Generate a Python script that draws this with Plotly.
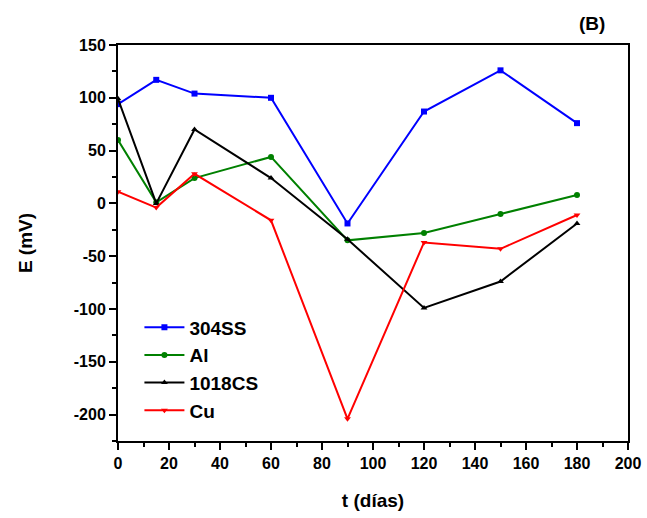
import plotly.graph_objects as go

t_days = [0, 15, 30, 60, 90, 120, 150, 180]
ss304 = [94, 117, 104, 100, -19, 87, 126, 76]
al = [60, 1, 24, 44, -35, -28, -10, 8]
cs1018 = [99, 0, 70, 24, -34, -99, -74, -19]
cu = [11, -4, 28, -16, -204, -37, -43, -11]

x_ticks = [0, 20, 40, 60, 80, 100, 120, 140, 160, 180, 200]
y_ticks = [-200, -150, -100, -50, 0, 50, 100, 150]
y_ticktext = ["-200", "-150", "-100", "-50", "0", "50", "100", "150"]

series = [
    ("304SS", ss304, "#0000ff", "square"),
    ("Al", al, "#008000", "circle"),
    ("1018CS", cs1018, "#000000", "triangle-up"),
    ("Cu", cu, "#ff0000", "triangle-down"),
]

FONT = "Arial, 'Liberation Sans', sans-serif"

fig = go.Figure()
for name, vals, col, sym in series:
    fig.add_trace(go.Scatter(
        x=t_days, y=vals, name=name, mode="lines+markers",
        line=dict(color=col, width=2),
        marker=dict(symbol=sym, size=6, color=col),
    ))

axis_common = dict(
    showline=True, linecolor="black", linewidth=2, mirror=True,
    ticks="outside", tickcolor="black", tickwidth=1.5, ticklen=7,
    showgrid=False, zeroline=False, automargin=False,
    tickfont=dict(family=FONT, size=16, color="black", weight="bold"),
)

fig.update_xaxes(
    range=[0, 200], tickvals=x_ticks,
    minor=dict(ticks="outside", dtick=10, ticklen=4, tickcolor="black", tickwidth=1.5),
    title=dict(text="<b>t (días)</b>", font=dict(family=FONT, size=19, color="black"), standoff=22),
    **axis_common,
)
fig.update_yaxes(
    range=[-225, 150], tickvals=y_ticks, ticktext=y_ticktext,
    minor=dict(ticks="outside", dtick=25, ticklen=4, tickcolor="black", tickwidth=1.5),
    title=dict(text="<b>E (mV)</b>", font=dict(family=FONT, size=19, color="black"), standoff=36),
    **axis_common,
)

fig.update_layout(
    width=647, height=518,
    margin=dict(l=118, r=19, t=45, b=77),
    paper_bgcolor="white", plot_bgcolor="white",
    showlegend=True,
    legend=dict(
        x=0.042, y=0.335, xanchor="left", yanchor="top",
        bgcolor="rgba(0,0,0,0)", borderwidth=0,
        font=dict(family=FONT, size=19, color="black", weight="bold"),
        tracegroupgap=0, itemwidth=40,
    ),
    annotations=[dict(
        text="<b>(B)</b>", xref="paper", yref="paper", x=0.929, y=1.0,
        xanchor="center", yanchor="bottom", yshift=9, showarrow=False,
        font=dict(family=FONT, size=19, color="black"),
    )],
)

fig.write_html(
    "out.html",
    config={"displayModeBar": False},
    post_script="document.body.style.margin='0';document.body.style.overflow='hidden';",
)
